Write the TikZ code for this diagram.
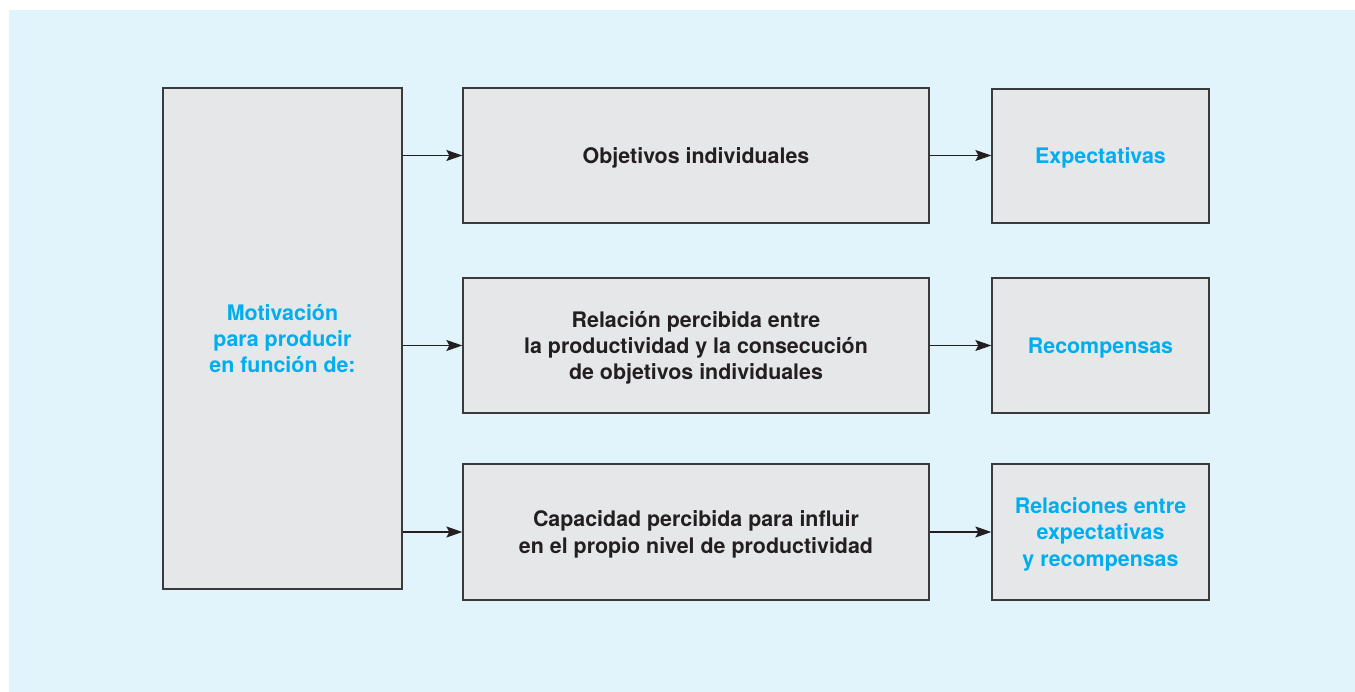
\documentclass[tikz,border=0pt]{standalone}
\usepackage{fontspec}
\setmainfont{TeX Gyre Heros}
\usetikzlibrary{arrows.meta}

\definecolor{fondo}{HTML}{E1F4FB}
\definecolor{caja}{HTML}{E6E7E8}
\definecolor{borde}{HTML}{3A3A3A}
\definecolor{cian}{HTML}{00AEEF}
\definecolor{texto}{HTML}{231F20}

\tikzset{
    cuadro/.style={draw=borde, fill=caja, line width=1.3pt, inner sep=0pt,
        align=center, text depth=0pt,
        font=\fontsize{21.4}{26.3}\selectfont\bfseries, text=texto},
    destacado/.style={text=cian},
    flecha/.style={draw=texto, line width=1.2pt,
        -{Stealth[length=16pt,width=11pt,inset=3pt]}}
}

\begin{document}
\begin{tikzpicture}[x=1pt,y=-1pt]

% ===== Fondo =====
\useasboundingbox (0,0) rectangle (1355,692);
\fill[fondo] (9,10) rectangle (1355,692);

% ===== Caja izquierda =====
\node[cuadro, destacado, minimum width=239pt, minimum height=501pt] (motiv) at (282.5,338.5)
    {Motivación\\para producir\\en función de:};

% ===== Cajas centrales =====
\node[cuadro, minimum width=466pt, minimum height=135pt] (obj) at (696,155.5)
    {Objetivos individuales};
\node[cuadro, minimum width=466pt, minimum height=135pt] (rel) at (696,345.5)
    {Relación percibida entre\\la productividad y la consecución\\de objetivos individuales};
\node[cuadro, minimum width=466pt, minimum height=136pt] (cap) at (696,532)
    {Capacidad percibida para influir\\en el propio nivel de productividad};

% ===== Cajas derechas =====
\node[cuadro, destacado, minimum width=217pt, minimum height=134pt] (expe) at (1100.5,156)
    {Expectativas};
\node[cuadro, destacado, minimum width=217pt, minimum height=135pt] (recom) at (1100.5,345.5)
    {Recompensas};
\node[cuadro, destacado, minimum width=217pt, minimum height=136pt] (relex) at (1100.5,532)
    {Relaciones entre\\expectativas\\y recompensas};

% ===== Flechas =====
\draw[flecha] (motiv.east |- obj.west) -- (obj.west);
\draw[flecha] (motiv.east |- rel.west) -- (rel.west);
\draw[flecha] (motiv.east |- cap.west) -- (cap.west);

\draw[flecha] (obj.east) -- (expe.west |- obj.east);
\draw[flecha] (rel.east) -- (recom.west |- rel.east);
\draw[flecha] (cap.east) -- (relex.west |- cap.east);

\end{tikzpicture}
\end{document}
